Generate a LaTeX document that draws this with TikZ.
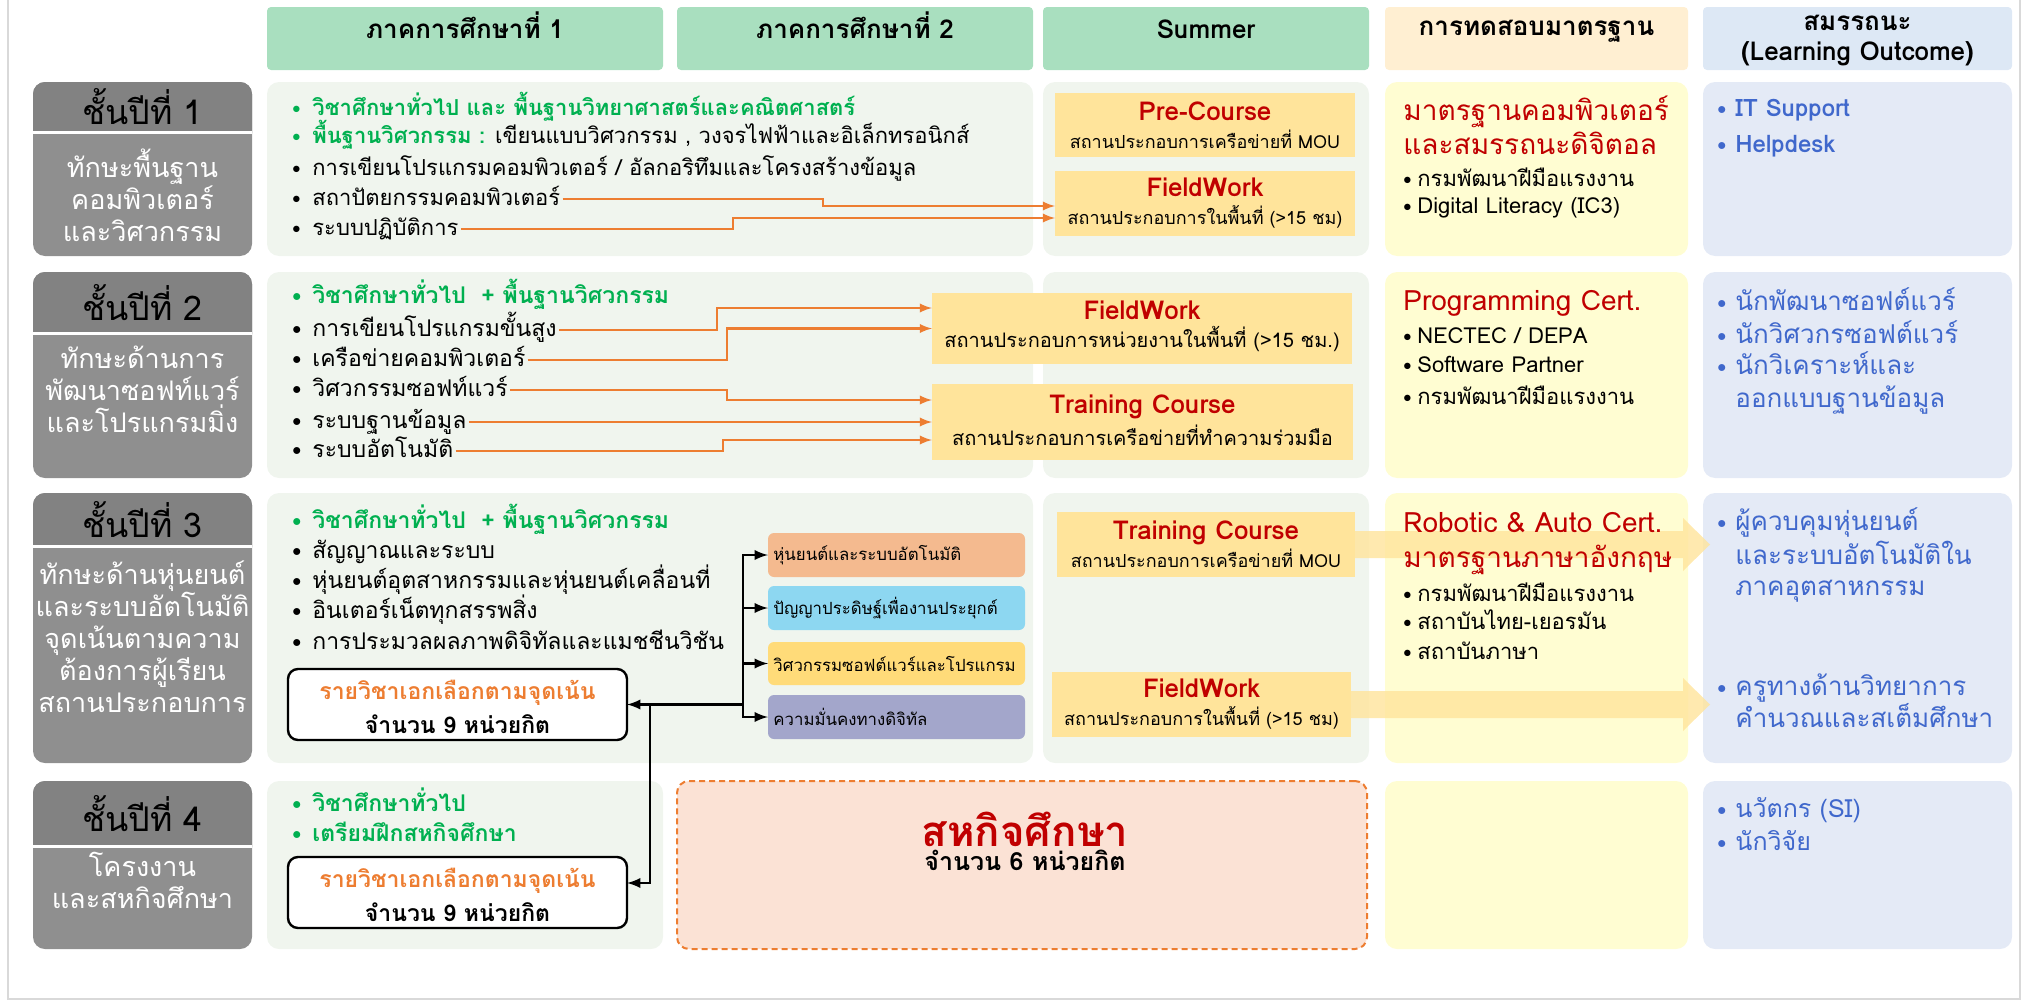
\documentclass[tikz,border=0pt]{standalone}
\usepackage{fontspec}
\setmainfont[Script=Thai]{Loma}
\usetikzlibrary{fit,calc}

\definecolor{hdrgreen}{HTML}{A9DFBF}
\definecolor{hdrpeach}{HTML}{FFEFD2}
\definecolor{hdrblue}{HTML}{DDE8F5}
\definecolor{yeargray}{HTML}{8F8F8F}
\definecolor{yeardark}{HTML}{828282}
\definecolor{panelgreen}{HTML}{F0F5EE}
\definecolor{testyellow}{HTML}{FFFDD2}
\definecolor{outblue}{HTML}{E4EAF6}
\definecolor{courseyel}{HTML}{FFE49B}
\definecolor{coopfill}{HTML}{FBE2D5}
\definecolor{catpeach}{HTML}{F4BA8F}
\definecolor{catsky}{HTML}{8DD7F1}
\definecolor{catyel}{HTML}{FFDB79}
\definecolor{catlav}{HTML}{A3A6CB}
\definecolor{txtgreen}{HTML}{00B050}
\definecolor{txtred}{HTML}{C00000}
\definecolor{txtorange}{HTML}{ED7D31}
\definecolor{txtblue}{HTML}{4068CC}
\definecolor{framegray}{HTML}{D9D9D9}

\newcommand{\fsize}[2]{\fontsize{#1}{#2}\selectfont}
\newcommand{\dotitem}[1][10pt]{\makebox[#1][l]{\raisebox{0.1ex}{\scalebox{0.75}{$\bullet$}}}}
\newcommand{\coursetitle}[3][9]{{\fsize{13}{16}\bfseries\color{txtred}#2}\\[2pt]{\fsize{#1}{11}#3}}

\begin{document}
\begin{tikzpicture}[x=0.5pt, y=-0.5pt,
    plainbox/.style={inner sep=0pt, outer sep=0pt},
    hdrbox/.style={plainbox, rounded corners=2pt, align=center, font=\fsize{13}{16}\bfseries},
    yearbox/.style={plainbox, fill=yeargray, rounded corners=6pt},
    yeartitle/.style={font=\fsize{17}{20}},
    yeartext/.style={font=\fsize{13.5}{16}, text=white, align=center},
    panelbox/.style={plainbox, rounded corners=6pt},
    coursebox/.style={plainbox, fill=courseyel},
    coursetext/.style={align=center, inner sep=0pt},
    catbox/.style={plainbox, rounded corners=3pt},
    cattext/.style={anchor=west, inner sep=0pt, font=\fsize{8.4}{10}},
    electbox/.style={plainbox, draw=black, line width=1.2pt, fill=white, rounded corners=5pt},
    electtext/.style={align=center, inner sep=0pt, font=\fsize{11.5}{14}\bfseries},
    rowitem/.style={anchor=base west, inner sep=1pt, font=\fsize{11.5}{15}},
    feed/.style={draw=txtorange, line width=1.1pt, -latex},
    link/.style={draw=black, line width=1.3pt, -latex},
    bigarrow/.style={fill=courseyel, fill opacity=0.8}]

    \useasboundingbox (0,0) rectangle (2025,1001);
    \draw[framegray, line width=1pt] (8,0) -- (8,999) -- (2020,999) -- (2020,0);

    % headers
    \node[hdrbox, fill=hdrgreen, fit={(267,7) (663,70)}] (h1) {ภาคการศึกษาที่ 1};
    \node[hdrbox, fill=hdrgreen, fit={(677,7) (1033,70)}] (h2) {ภาคการศึกษาที่ 2};
    \node[hdrbox, fill=hdrgreen, fit={(1043,7) (1369,70)}] (h3) {Summer};
    \node[hdrbox, fill=hdrpeach, fit={(1385,7) (1688,70)}] (h4) {การทดสอบมาตรฐาน};
    \node[hdrbox, fill=hdrblue, fit={(1703,7) (2012,70)}] (h5) {};
    \node[align=center, inner sep=0pt, font=\fsize{13}{15}\bfseries] (h5t) at ([yshift=-1pt]h5.center) {สมรรถนะ\\(Learning Outcome)};

    % year boxes
    \node[yearbox, fit={(33,82) (252,256)}] (y1) {};
    \begin{scope}
        \clip (33,82) rectangle (252,132);
        \fill[yeardark, rounded corners=6pt] (y1.south west) rectangle (y1.north east);
    \end{scope}
    \draw[white, line width=1.5pt] (33,132) -- (252,132);
    \node[yeartitle] (y1t) at (142.5,107) {ชั้นปีที่ 1};
    \node[yeartext] (y1b) at (142.5,195) {ทักษะพื้นฐาน\\คอมพิวเตอร์\\และวิศวกรรม};

    \node[yearbox, fit={(33,272) (252,478)}] (y2) {};
    \begin{scope}
        \clip (33,272) rectangle (252,333);
        \fill[yeardark, rounded corners=6pt] (y2.south west) rectangle (y2.north east);
    \end{scope}
    \draw[white, line width=1.5pt] (33,333) -- (252,333);
    \node[yeartitle] (y2t) at (142.5,303) {ชั้นปีที่ 2};
    \node[yeartext] (y2b) at (142.5,389) {ทักษะด้านการ\\พัฒนาซอฟท์แวร์\\และโปรแกรมมิ่ง};

    \node[yearbox, fit={(33,493) (252,763)}] (y3) {};
    \begin{scope}
        \clip (33,493) rectangle (252,546);
        \fill[yeardark, rounded corners=6pt] (y3.south west) rectangle (y3.north east);
    \end{scope}
    \draw[white, line width=1.5pt] (33,546) -- (252,546);
    \node[yeartitle] (y3t) at (142.5,520) {ชั้นปีที่ 3};
    \node[yeartext] (y3b) at (142.5,637) {ทักษะด้านหุ่นยนต์\\และระบบอัตโนมัติ\\จุดเน้นตามความ\\ต้องการผู้เรียน\\สถานประกอบการ};

    \node[yearbox, fit={(33,781) (252,949)}] (y4) {};
    \begin{scope}
        \clip (33,781) rectangle (252,846);
        \fill[yeardark, rounded corners=6pt] (y4.south west) rectangle (y4.north east);
    \end{scope}
    \draw[white, line width=1.5pt] (33,846) -- (252,846);
    \node[yeartitle] (y4t) at (142.5,814) {ชั้นปีที่ 4};
    \node[yeartext] (y4b) at (142.5,880) {โครงงาน\\และสหกิจศึกษา};

    % panels
    \node[panelbox, fill=panelgreen, fit={(267,82) (1033,256)}] (p1) {};
    \node[panelbox, fill=panelgreen, fit={(1043,82) (1369,256)}] (s1) {};
    \node[panelbox, fill=testyellow, fit={(1385,82) (1688,256)}] (c1) {};
    \node[panelbox, fill=outblue, fit={(1703,82) (2012,256)}] (o1) {};
    \node[panelbox, fill=panelgreen, fit={(267,272) (1033,478)}] (p2) {};
    \node[panelbox, fill=panelgreen, fit={(1043,272) (1369,478)}] (s2) {};
    \node[panelbox, fill=testyellow, fit={(1385,272) (1688,478)}] (c2) {};
    \node[panelbox, fill=outblue, fit={(1703,272) (2012,478)}] (o2) {};
    \node[panelbox, fill=panelgreen, fit={(267,493) (1033,763)}] (p3) {};
    \node[panelbox, fill=panelgreen, fit={(1043,493) (1369,763)}] (s3) {};
    \node[panelbox, fill=testyellow, fit={(1385,493) (1688,763)}] (c3) {};
    \node[panelbox, fill=outblue, fit={(1703,493) (2012,763)}] (o3) {};
    \node[panelbox, fill=panelgreen, fit={(267,781) (663,949)}] (p4) {};
    \node[panelbox, fill=testyellow, fit={(1385,781) (1688,949)}] (c4) {};
    \node[panelbox, fill=outblue, fit={(1703,781) (2012,949)}] (o4) {};
    \node[plainbox, fill=coopfill, draw=txtorange, line width=1pt, dash pattern=on 3pt off 2pt, rounded corners=6pt, fit={(677,781) (1367,949)}] (coop) {};
    \node[align=center] (coopt) at (1025,841) {{\fsize{21}{24}\bfseries\color{txtred}สหกิจศึกษา}\\{\fsize{12.5}{15}\bfseries จำนวน 6 หน่วยกิต}};

    % summer courses
    \node[coursebox, fit={(1055,93) (1355,157)}] (pc1) {};
    \node[coursetext] (pc1t) at (pc1.center) {\coursetitle{Pre-Course}{สถานประกอบการเครือข่ายที่ MOU}};
    \node[coursebox, fit={(1055,171) (1355,236)}] (fw1) {};
    \node[coursetext] (fw1t) at (fw1.center) {\coursetitle{FieldWork}{สถานประกอบการในพื้นที่ (>15 ชม)}};
    \node[coursebox, fit={(932,293) (1352,364)}] (fw2) {};
    \node[coursetext] (fw2t) at ([yshift=1pt]fw2.center) {\coursetitle[10]{FieldWork}{สถานประกอบการหน่วยงานในพื้นที่ (>15 ชม.)}};
    \node[coursebox, fit={(932,384) (1353,460)}] (tr2) {};
    \node[coursetext] (tr2t) at ([yshift=1pt]tr2.center) {\coursetitle[10]{Training Course}{สถานประกอบการเครือข่ายที่ทำความร่วมมือ}};
    \node[coursebox, fit={(1057,512) (1355,577)}] (tr3) {};
    \node[coursetext] (tr3t) at (tr3.center) {\coursetitle{Training Course}{สถานประกอบการเครือข่ายที่ MOU}};
    \node[coursebox, fit={(1052,672) (1351,737)}] (fw3) {};
    \node[coursetext] (fw3t) at (fw3.center) {\coursetitle{FieldWork}{สถานประกอบการในพื้นที่ (>15 ชม)}};

    \fill[bigarrow] ($(tr3.east)+(0,-13.5)$) -- ($(o3.west |- tr3.east)+(-20,-13.5)$) -- ($(o3.west |- tr3.east)+(-20,-26.5)$) -- ($(o3.west |- tr3.east)+(7,0)$) -- ($(o3.west |- tr3.east)+(-20,26.5)$) -- ($(o3.west |- tr3.east)+(-20,13.5)$) -- ($(tr3.east)+(0,13.5)$) -- cycle;
    \fill[bigarrow] ($(fw3.east)+(0,-13.5)$) -- ($(o3.west |- fw3.east)+(-20,-13.5)$) -- ($(o3.west |- fw3.east)+(-20,-26.5)$) -- ($(o3.west |- fw3.east)+(7,0)$) -- ($(o3.west |- fw3.east)+(-20,26.5)$) -- ($(o3.west |- fw3.east)+(-20,13.5)$) -- ($(fw3.east)+(0,13.5)$) -- cycle;

    % focus tracks
    \node[catbox, fill=catpeach, fit={(768,533) (1025,577)}] (ca) {};
    \node[cattext] (cat1) at ([xshift=2.5pt]ca.west) {หุ่นยนต์และระบบอัตโนมัติ};
    \node[catbox, fill=catsky, fit={(768,586) (1025,630)}] (cb) {};
    \node[cattext] (cat2) at ([xshift=2.5pt]cb.west) {ปัญญาประดิษฐ์เพื่องานประยุกต์};
    \node[catbox, fill=catyel, fit={(768,642) (1025,685)}] (cc) {};
    \node[cattext] (cat3) at ([xshift=2.5pt]cc.west) {วิศวกรรมซอฟต์แวร์และโปรแกรม};
    \node[catbox, fill=catlav, fit={(768,695) (1025,739)}] (cd) {};
    \node[cattext] (cat4) at ([xshift=2.5pt]cd.west) {ความมั่นคงทางดิจิทัล};

    \node[electbox, fit={(288,669) (627,740)}] (el3) {};
    \node[electtext] (el3t) at ([yshift=-1pt]el3.center) {{\color{txtorange}รายวิชาเอกเลือกตามจุดเน้น}\\[3pt]จำนวน 9 หน่วยกิต};
    \node[electbox, fit={(288,857) (627,928)}] (el4) {};
    \node[electtext] (el4t) at ([yshift=-1pt]el4.center) {{\color{txtorange}รายวิชาเอกเลือกตามจุดเน้น}\\[3pt]จำนวน 9 หน่วยกิต};

    % year 1 subjects
    \node[rowitem, font=\fsize{11}{14}\bfseries, text=txtgreen] (t11) at (290,115) {\dotitem วิชาศึกษาทั่วไป และ พื้นฐานวิทยาศาสตร์และคณิตศาสตร์};
    \node[rowitem, font=\fsize{11}{14}] (t12) at (290,143) {{\color{txtgreen}\bfseries\dotitem พื้นฐานวิศวกรรม :} เขียนแบบวิศวกรรม , วงจรไฟฟ้าและอิเล็กทรอนิกส์};
    \node[rowitem, font=\fsize{11}{14}] (t13) at (290,175) {\dotitem การเขียนโปรแกรมคอมพิวเตอร์ / อัลกอริทึมและโครงสร้างข้อมูล};
    \node[rowitem, font=\fsize{11}{14}] (t14) at (290,205) {\dotitem สถาปัตยกรรมคอมพิวเตอร์};
    \node[rowitem, font=\fsize{11}{14}] (t15) at (290,235) {\dotitem ระบบปฏิบัติการ};

    % year 2 subjects
    \node[rowitem, font=\fsize{11.5}{15}\bfseries, text=txtgreen] (t21) at (290,303) {\dotitem วิชาศึกษาทั่วไป~ + พื้นฐานวิศวกรรม};
    \node[rowitem] (t22) at (290,336) {\dotitem การเขียนโปรแกรมขั้นสูง};
    \node[rowitem] (t23) at (290,366) {\dotitem เครือข่ายคอมพิวเตอร์};
    \node[rowitem] (t24) at (290,396) {\dotitem วิศวกรรมซอฟท์แวร์};
    \node[rowitem] (t25) at (290,428) {\dotitem ระบบฐานข้อมูล};
    \node[rowitem] (t26) at (290,457) {\dotitem ระบบอัตโนมัติ};

    % year 3 subjects
    \node[rowitem, font=\fsize{11.5}{15}\bfseries, text=txtgreen] (t31) at (290,528) {\dotitem วิชาศึกษาทั่วไป~ + พื้นฐานวิศวกรรม};
    \node[rowitem] (t32) at (290,558) {\dotitem สัญญาณและระบบ};
    \node[rowitem] (t33) at (290,588) {\dotitem หุ่นยนต์อุตสาหกรรมและหุ่นยนต์เคลื่อนที่};
    \node[rowitem] (t34) at (290,618) {\dotitem อินเตอร์เน็ตทุกสรรพสิ่ง};
    \node[rowitem] (t35) at (290,649) {\dotitem การประมวลผลภาพดิจิทัลและแมชชีนวิชัน};

    % year 4 subjects
    \node[rowitem, font=\fsize{11.5}{15}\bfseries, text=txtgreen] (t41) at (290,811) {\dotitem วิชาศึกษาทั่วไป};
    \node[rowitem, font=\fsize{11.5}{15}\bfseries, text=txtgreen] (t42) at (290,841) {\dotitem เตรียมฝึกสหกิจศึกษา};

    % standard tests
    \node[rowitem, font=\fsize{14}{17}, text=txtred] (c1a) at (1401,120) {มาตรฐานคอมพิวเตอร์};
    \node[rowitem, font=\fsize{14}{17}, text=txtred] (c1b) at (1401,154) {และสมรรถนะดิจิตอล};
    \node[rowitem, font=\fsize{11}{14}] (c1c) at (1401,186) {\dotitem[7pt]กรมพัฒนาฝีมือแรงงาน};
    \node[rowitem, font=\fsize{11}{14}] (c1d) at (1401,213) {\dotitem[7pt]Digital Literacy (IC3)};
    \node[rowitem, font=\fsize{14}{17}, text=txtred] (c2a) at (1401,310) {Programming Cert.};
    \node[rowitem, font=\fsize{11}{14}] (c2b) at (1401,343) {\dotitem[7pt]NECTEC / DEPA};
    \node[rowitem, font=\fsize{11}{14}] (c2c) at (1401,372) {\dotitem[7pt]Software Partner};
    \node[rowitem, font=\fsize{11}{14}] (c2d) at (1401,404) {\dotitem[7pt]กรมพัฒนาฝีมือแรงงาน};
    \node[rowitem, font=\fsize{14}{17}, text=txtred] (c3a) at (1401,532) {Robotic \& Auto Cert.};
    \node[rowitem, font=\fsize{14}{17}, text=txtred] (c3b) at (1401,567) {มาตรฐานภาษาอังกฤษ};
    \node[rowitem, font=\fsize{11}{14}] (c3c) at (1401,601) {\dotitem[7pt]กรมพัฒนาฝีมือแรงงาน};
    \node[rowitem, font=\fsize{11}{14}] (c3d) at (1401,629) {\dotitem[7pt]สถาบันไทย-เยอรมัน};
    \node[rowitem, font=\fsize{11}{14}] (c3e) at (1401,659) {\dotitem[7pt]สถาบันภาษา};

    % learning outcomes
    \node[rowitem, font=\fsize{12}{15}\bfseries, text=txtblue] (o1a) at (1715,116) {\dotitem[9pt]IT Support};
    \node[rowitem, font=\fsize{12}{15}\bfseries, text=txtblue] (o1b) at (1715,152) {\dotitem[9pt]Helpdesk};
    \node[rowitem, font=\fsize{13}{16}, text=txtblue] (o2a) at (1715,310) {\dotitem[9pt]นักพัฒนาซอฟต์แวร์};
    \node[rowitem, font=\fsize{13}{16}, text=txtblue] (o2b) at (1715,343) {\dotitem[9pt]นักวิศวกรซอฟต์แวร์};
    \node[rowitem, font=\fsize{13}{16}, text=txtblue] (o2c) at (1715,374) {\dotitem[9pt]นักวิเคราะห์และ};
    \node[rowitem, font=\fsize{13}{16}, text=txtblue] (o2d) at (1733,407) {ออกแบบฐานข้อมูล};
    \node[rowitem, font=\fsize{13}{16}, text=txtblue] (o3a) at (1715,530) {\dotitem[9pt]ผู้ควบคุมหุ่นยนต์};
    \node[rowitem, font=\fsize{13}{16}, text=txtblue] (o3b) at (1733,564) {และระบบอัตโนมัติใน};
    \node[rowitem, font=\fsize{13}{16}, text=txtblue] (o3c) at (1733,595) {ภาคอุตสาหกรรม};
    \node[rowitem, font=\fsize{13}{16}, text=txtblue] (o3d) at (1715,695) {\dotitem[9pt]ครูทางด้านวิทยาการ};
    \node[rowitem, font=\fsize{13}{16}, text=txtblue] (o3e) at (1733,727) {คำนวณและสเต็มศึกษา};
    \node[rowitem, font=\fsize{12.5}{16}, text=txtblue] (o4a) at (1715,817) {\dotitem[9pt]นวัตกร (SI)};
    \node[rowitem, font=\fsize{12.5}{16}, text=txtblue] (o4b) at (1715,850) {\dotitem[9pt]นักวิจัย};

    % connectors
    \draw[feed] ([yshift=3pt]t14.base east) -| ($(fw1.west)+(-232,2.5)$) -- ([yshift=-1.25pt]fw1.west);
    \draw[feed] ([yshift=3pt]t15.base east) -| ($(fw1.west)+(-322,14.5)$) -- ([yshift=-7.25pt]fw1.west);
    \draw[feed] ([yshift=3pt]t22.base east) -| ($(fw2.west)+(-215,-20.5)$) -- ([yshift=10.25pt]fw2.west);
    \draw[feed] ([yshift=3pt]t23.base east) -| ($(fw2.west)+(-205,0)$) -- (fw2.west);
    \draw[feed] ([yshift=3pt]t24.base east) -| ($(tr2.west)+(-205,-22)$) -- ([yshift=11pt]tr2.west);
    \draw[feed] ([yshift=3pt]t25.base east) -- ([yshift=3pt]t25.base east -| tr2.west);
    \draw[feed] ([yshift=3pt]t26.base east) -| ($(tr2.west)+(-209,18)$) -- ([yshift=-9pt]tr2.west);

    \coordinate (bus) at (743,704.5);
    \coordinate (drop) at (650,704.5);
    \draw[link] (bus) |- (ca.west);
    \draw[link] (bus) |- (cb.west);
    \draw[link] (bus) |- (cc.west);
    \draw[link] (bus) |- (cd.west);
    \draw[link] (bus) -- (el3.east);
    \draw[link] (drop) |- ([yshift=4.75pt]el4.east);
\end{tikzpicture}
\end{document}
